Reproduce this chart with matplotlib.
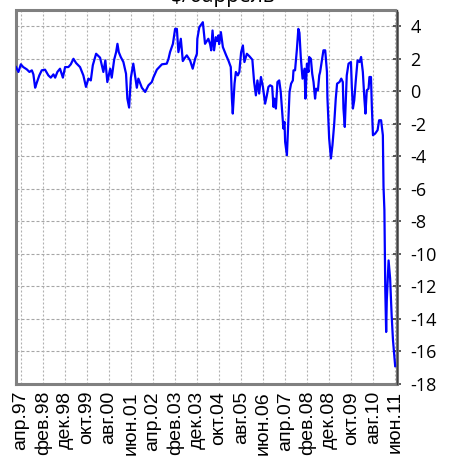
import matplotlib
matplotlib.use("Agg")
import matplotlib.pyplot as plt
import numpy as np

plt.rcParams['axes.unicode_minus'] = False

# months counted from April 1997
months = [
    -2.3, -1.6, -1.2, -0.1, 1.0, 2.6, 3.8, 4.9, 5.6, 6.4, 7.1, 8.3, 9.4, 10.9,
    12.4, 13.5, 14.7, 15.5, 16.5, 17.7, 19.0, 20.0, 21.5, 22.6, 23.8, 25.0,
    26.8, 28.3, 29.5, 30.6, 31.7, 32.6, 34.1, 35.9, 37.4, 38.3, 39.2, 40.5,
    41.2, 42.3, 43.2, 43.8, 44.4, 45.3, 46.5, 47.7, 48.3, 49.1, 49.9, 51.0,
    51.8, 52.6, 53.3, 54.9, 56.4, 57.9, 59.4, 60.1, 61.7, 64.0, 66.2, 67.0,
    67.7, 69.0, 70.0, 70.8, 71.5, 72.6, 73.5, 74.5, 75.3, 76.8, 78.0, 79.1,
    79.9, 80.1, 81.0, 82.6, 83.6, 85.1, 85.9, 86.4, 87.0, 87.7, 88.5, 89.1,
    89.7, 90.0, 90.8, 91.7, 93.2, 94.2, 95.3, 95.8, 96.2, 97.0, 97.6, 98.5,
    99.2, 99.5, 100.0, 100.8, 101.5, 102.6, 103.8, 105.1, 105.9, 106.7, 107.4,
    108.2, 109.0, 109.9, 110.9, 111.7, 112.4, 113.2, 114.1, 114.7, 115.1,
    115.8, 116.5, 117.3, 118.0, 118.5, 119.2, 119.7, 120.0, 120.8, 121.5,
    122.0, 122.7, 123.5, 123.8, 124.5, 125.3, 126.0, 126.5, 127.1, 127.9,
    128.8, 129.2, 129.9, 130.6, 130.9, 131.7, 132.3, 132.9, 133.6, 134.1,
    134.9, 135.5, 135.9, 136.7, 137.4, 138.2, 139.0, 139.2, 140.0, 140.8,
    141.5, 142.3, 143.0, 143.6, 144.7, 145.5, 146.2, 146.5, 147.1, 147.6,
    148.0, 148.8, 149.9, 150.3, 150.8, 151.4, 152.1, 152.9, 153.8, 154.5,
    155.3, 156.0, 156.5, 157.1, 157.9, 158.3, 159.0, 159.4, 159.9, 160.9,
    162.0, 162.7, 163.6, 164.4, 164.7, 165.1, 165.5, 165.9, 166.2, 167.0,
    167.7, 168.4, 169.0, 170.0,
]

# spread, $/barrel
spread = [
    1.49, 1.30, 1.19, 1.66, 1.49, 1.35, 1.19, 1.29, 1.04, 0.22, 0.51, 0.98,
    1.29, 1.33, 0.98, 0.84, 1.04, 0.84, 1.19, 1.39, 0.84, 1.49, 1.49, 1.66,
    2.00, 1.74, 1.49, 0.98, 0.27, 0.78, 0.67, 1.60, 2.31, 2.07, 1.19, 1.90,
    0.57, 1.39, 0.84, 1.94, 2.41, 2.92, 2.41, 2.11, 1.80, 1.08, -0.45, -1.00,
    0.84, 1.70, 0.98, 0.22, 0.78, 0.22, -0.04, 0.37, 0.57, 0.84, 1.33, 1.66,
    1.70, 2.00, 2.41, 2.92, 3.84, 3.84, 2.41, 3.23, 1.86, 2.07, 2.21, 1.90,
    1.39, 2.00, 2.31, 3.23, 3.94, 4.25, 2.92, 3.23, 2.90, 2.52, 3.74, 2.52,
    3.33, 3.10, 3.44, 2.90, 3.64, 2.72, 2.21, 1.90, 1.49, -0.45, -1.37, 0.47,
    1.19, 0.98, 1.19, 1.70, 2.41, 2.82, 1.80, 2.31, 2.15, 1.94, 0.57, -0.25,
    0.67, -0.14, 0.88, 0.27, -0.76, -0.25, 0.27, 0.37, 0.30, -0.96, -0.45,
    -1.06, 0.57, 0.67, -0.04, -0.96, -2.29, -1.88, -3.11, -3.93, -1.58,
    -0.04, 0.47, 0.67, 1.29, 1.29, 2.52, 3.84, 3.60, 2.11, 0.78, 1.39, -0.45,
    1.70, 1.19, 2.11, 2.00, 1.08, 0.57, -0.45, 0.16, 0.06, 0.98, 1.19, 1.90,
    2.52, 2.52, 1.19, -0.35, -2.90, -4.13, -3.31, -1.98, -0.45, 0.47, 0.57,
    0.78, 0.57, -1.06, -2.19, -0.45, 0.98, 1.70, 1.80, 0.27, -1.06, -0.55,
    0.67, 1.90, 1.80, 2.11, 1.19, -0.45, -1.37, 0.06, 0.16, 0.88, 0.88, -0.96,
    -2.70, -2.60, -2.39, -1.78, -1.78, -2.70, -5.87, -7.30, -12.20, -14.80,
    -12.80, -10.40, -11.50, -13.80, -15.30, -16.90,
]

tick_months = list(range(0, 171, 10))
tick_labels = ['апр.97', 'фев.98', 'дек.98', 'окт.99', 'авг.00', 'июн.01',
               'апр.02', 'фев.03', 'дек.03', 'окт.04', 'авг.05', 'июн.06',
               'апр.07', 'фев.08', 'дек.08', 'окт.09', 'авг.10', 'июн.11']
y_ticks = list(range(-18, 5, 2))

fig = plt.figure(figsize=(4.54, 4.62), dpi=100)
ax = fig.add_axes([16 / 454, 1 - 384 / 462, 380.5 / 454, 374 / 462])

ax.plot(months, spread, color='#0000ff', linewidth=1.6, zorder=3)

ax.set_xlim(-2.3, 170.6)
ax.set_ylim(-18, 5)

# gridlines
for y in y_ticks:
    ax.axhline(y, color='#a6a6a6', linewidth=0.8,
               linestyle=(0, (2.7, 1.8)), zorder=1)
for m in tick_months:
    ax.axvline(m, color='#b0b0b0', linewidth=0.8,
               linestyle=(0, (1.8, 1.8)), zorder=1)

# dashed plot-area border
for side in ['left', 'top', 'bottom', 'right']:
    ax.spines[side].set_color('#808080')
    ax.spines[side].set_linewidth(2.2)
    ax.spines[side].set_linestyle((0, (1.5, 1.0)))
ax.plot([1, 1], [0, 1], transform=ax.transAxes, color='#404040',
        linewidth=1.0, clip_on=False, zorder=4)

ax.yaxis.tick_right()
ax.set_yticks(y_ticks)
ax.set_yticklabels([str(v) for v in y_ticks], fontsize=13,
                   family='Open Sans')
ax.tick_params(axis='y', direction='inout', length=6, width=1.2,
               color='#404040', pad=7)

ax.set_xticks(tick_months)
ax.set_xticklabels(tick_labels, fontsize=14, family='Liberation Sans',
                   rotation=90, ha='center', va='top')
ax.tick_params(axis='x', length=0, pad=5)

fig.text(223 / 454, 1 - 2 / 462, '$/баррель', ha='center', va='baseline',
         fontsize=15, family='Open Sans')

fig.savefig('out.png', dpi=100)
